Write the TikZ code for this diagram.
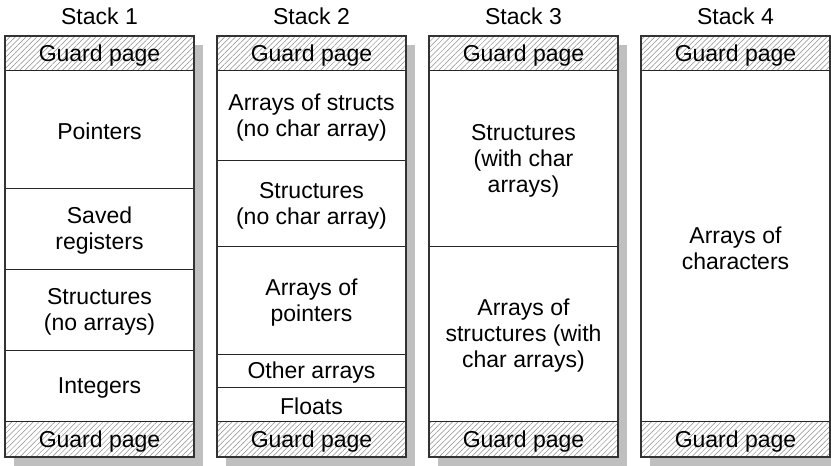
\documentclass[tikz,border=0pt]{standalone}
\usepackage{fontspec}
\setmainfont{Liberation Sans}
\usetikzlibrary{patterns.meta}
\tikzset{
  shadowbox/.style={fill=black!25},
  stackfill/.style={fill=white},
  stackedge/.style={draw=black!80, line width=1.2pt},
  guardpage/.style={pattern={Lines[angle=45,distance=3.8pt,line width=0.5pt]}, pattern color=black!45},
  divider/.style={draw=black!85, line width=1pt},
  slottext/.style={align=center, inner sep=0pt, yshift=-2.5pt, font=\fontsize{23}{26}\selectfont},
}

\begin{document}
\begin{tikzpicture}[x=1pt,y=-1pt]
			%%%%% START %%%%%
			\useasboundingbox (0,0) rectangle (831,466);
			
			% shadows
			\fill[shadowbox] (14,45) rectangle (203,466);
			\fill[shadowbox] (226,45) rectangle (415,466);
			\fill[shadowbox] (438,45) rectangle (627,466);
			\fill[shadowbox] (650,45) rectangle (839,466);
			
			% stack 1
			\fill[stackfill] (5,36) rectangle (194,457);
			\fill[guardpage] (5,36) rectangle (194,70);
			\fill[guardpage] (5,421) rectangle (194,457);
			\draw[divider] (5,70) -- (194,70);
			\draw[divider] (5,188) -- (194,188);
			\draw[divider] (5,269) -- (194,269);
			\draw[divider] (5,350) -- (194,350);
			\draw[divider] (5,421) -- (194,421);
			\draw[stackedge] (5,36) rectangle (194,457);
			
			% stack 2
			\fill[stackfill] (217,36) rectangle (406,457);
			\fill[guardpage] (217,36) rectangle (406,70);
			\fill[guardpage] (217,421) rectangle (406,457);
			\draw[divider] (217,70) -- (406,70);
			\draw[divider] (217,160) -- (406,160);
			\draw[divider] (217,246) -- (406,246);
			\draw[divider] (217,354) -- (406,354);
			\draw[divider] (217,387) -- (406,387);
			\draw[divider] (217,421) -- (406,421);
			\draw[stackedge] (217,36) rectangle (406,457);
			
			% stack 3
			\fill[stackfill] (429,36) rectangle (618,457);
			\fill[guardpage] (429,36) rectangle (618,70);
			\fill[guardpage] (429,421) rectangle (618,457);
			\draw[divider] (429,70) -- (618,70);
			\draw[divider] (429,246) -- (618,246);
			\draw[divider] (429,421) -- (618,421);
			\draw[stackedge] (429,36) rectangle (618,457);
			
			% stack 4
			\fill[stackfill] (641,36) rectangle (830,457);
			\fill[guardpage] (641,36) rectangle (830,70);
			\fill[guardpage] (641,421) rectangle (830,457);
			\draw[divider] (641,70) -- (830,70);
			\draw[divider] (641,421) -- (830,421);
			\draw[stackedge] (641,36) rectangle (830,457);
			
			% texts
			\node[slottext] (title1) at (99.5,14) {Stack 1};
			\node[slottext] (title2) at (311.5,14) {Stack 2};
			\node[slottext] (title3) at (523.5,14) {Stack 3};
			\node[slottext] (title4) at (735.5,14) {Stack 4};
			
			\node[slottext] (guardtop1) at (99.5,53) {Guard page};
			\node[slottext] (guardtop2) at (311.5,53) {Guard page};
			\node[slottext] (guardtop3) at (523.5,53) {Guard page};
			\node[slottext] (guardtop4) at (735.5,53) {Guard page};
			\node[slottext] (guardbot1) at (99.5,439) {Guard page};
			\node[slottext] (guardbot2) at (311.5,439) {Guard page};
			\node[slottext] (guardbot3) at (523.5,439) {Guard page};
			\node[slottext] (guardbot4) at (735.5,439) {Guard page};
			
			\node[slottext] (pointers) at (99.5,129) {Pointers};
			\node[slottext] (savedregs) at (99.5,228.5) {Saved\\registers};
			\node[slottext] (structsnoarr) at (99.5,309.5) {Structures\\(no arrays)};
			\node[slottext] (integers) at (99.5,385.5) {Integers};
			
			\node[slottext] (arrstructs) at (311.5,115) {Arrays of structs\\(no char array)};
			\node[slottext] (structsnochar) at (311.5,203) {Structures\\(no char array)};
			\node[slottext] (arrpointers) at (311.5,300) {Arrays of\\pointers};
			\node[slottext] (otherarrs) at (311.5,370.5) {Other arrays};
			\node[slottext] (floats) at (311.5,404) {Floats};
			
			\node[slottext] (structswchar) at (523.5,158) {Structures\\(with char\\arrays)};
			\node[slottext] (arrstructswchar) at (523.5,333.5) {Arrays of\\structures (with\\char arrays)};
			
			\node[slottext] (arrchars) at (735.5,245.5) {Arrays of\\characters};
			
			%%%%% END %%%%%
\end{tikzpicture}
\end{document}
